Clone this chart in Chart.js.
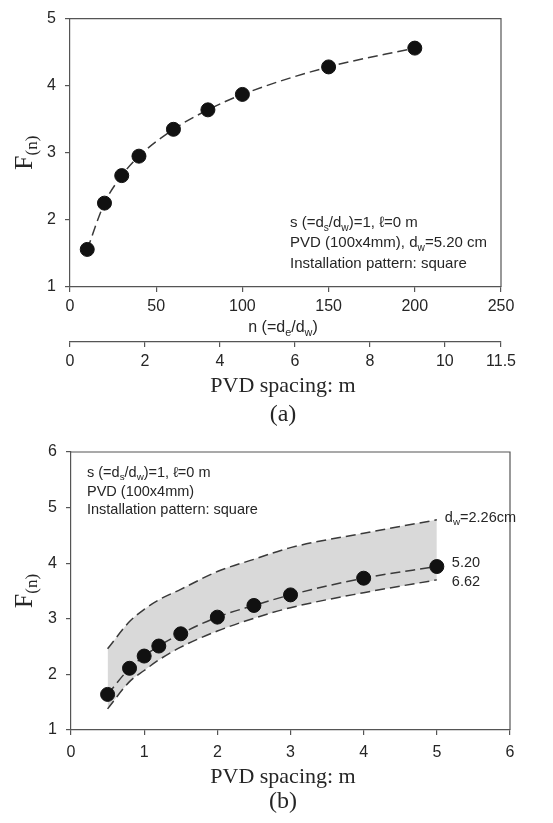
<!DOCTYPE html>
<html>
<head>
<meta charset="utf-8">
<script src="https://cdn.jsdelivr.net/npm/chart.js@4.4.0/dist/chart.umd.min.js"></script>
<style>
  html, body { margin: 0; padding: 0; background: #fff; }
  #wrap { position: relative; width: 553px; height: 823px; }
  canvas { position: absolute; left: 0; }
  #chartA { top: 0; }
  #chartB { top: 420px; }
</style>
</head>
<body>
<div id="wrap">
  <canvas id="chartA" width="553" height="440"></canvas>
  <canvas id="chartB" width="553" height="403"></canvas>
</div>
<script>
// (a) F(n) against n
const nValues = [10, 20, 30, 40, 60, 80, 100, 150, 200];
const fnValuesA = [1.56, 2.25, 2.66, 2.95, 3.35, 3.64, 3.87, 4.28, 4.56];
const spacingTicksA = [0, 2, 4, 6, 8, 10, 11.5];

// (b) F(n) against PVD spacing, for three drain diameters
const spacingB = [0.5, 0.8, 1.0, 1.2, 1.5, 2.0, 2.5, 3.0, 4.0, 5.0];
const fnDw226 = [2.46, 2.95, 3.17, 3.34, 3.53, 3.85, 4.07, 4.28, 4.54, 4.78];
const fnDw520 = [1.64, 2.11, 2.33, 2.51, 2.73, 3.03, 3.24, 3.43, 3.73, 3.94];
const fnDw662 = [1.38, 1.87, 2.07, 2.26, 2.49, 2.78, 3.01, 3.20, 3.47, 3.70];

const sans = '"Liberation Sans", Arial, sans-serif';
const serif = '"Liberation Serif", "Times New Roman", serif';
const ink = '#262626';
const axisColor = '#555';
const lineColor = '#3a3a3a';

// texte avec indices (d_w, d_s ...)
function drawRich(ctx, parts, x, y, size, align, family) {
    family = family || sans;
    ctx.save();
    ctx.fillStyle = ink;
    ctx.textBaseline = 'middle';
    ctx.textAlign = 'left';
    let total = 0;
    const widths = parts.map(p => {
        ctx.font = (p[1] ? size * 0.68 : size) + 'px ' + family;
        const w = ctx.measureText(p[0]).width;
        total += w;
        return w;
    });
    let cx = align === 'center' ? x - total / 2 : x;
    parts.forEach((p, i) => {
        ctx.font = (p[1] ? size * 0.68 : size) + 'px ' + family;
        ctx.fillText(p[0], cx, p[1] ? y + size * 0.32 : y);
        cx += widths[i];
    });
    ctx.restore();
}

function drawText(ctx, txt, x, y, font) {
    ctx.save();
    ctx.fillStyle = ink;
    ctx.font = font;
    ctx.textAlign = 'center';
    ctx.textBaseline = 'middle';
    ctx.fillText(txt, x, y);
    ctx.restore();
}

// F(n) vertical
function drawYTitle(ctx, x, cy) {
    ctx.save();
    ctx.translate(x, cy);
    ctx.rotate(-Math.PI / 2);
    ctx.fillStyle = ink;
    ctx.textBaseline = 'alphabetic';
    ctx.textAlign = 'left';
    ctx.font = '26px ' + serif;
    const wF = ctx.measureText('F').width;
    ctx.font = '17px ' + serif;
    const wS = ctx.measureText('(n)').width;
    const start = -(wF + wS) / 2;
    ctx.font = '26px ' + serif;
    ctx.fillText('F', start, 0);
    ctx.font = '17px ' + serif;
    ctx.fillText('(n)', start + wF, 5);
    ctx.restore();
}

// cadre haut + droite
const framePlugin = {
    id: 'frame',
    afterDraw(chart) {
        const { ctx, chartArea: a } = chart;
        ctx.save();
        ctx.strokeStyle = axisColor;
        ctx.lineWidth = 1.2;
        ctx.beginPath();
        ctx.moveTo(a.left, a.top);
        ctx.lineTo(a.right, a.top);
        ctx.lineTo(a.right, a.bottom);
        ctx.stroke();
        ctx.restore();
    }
};

function axisStyle(extra) {
    return Object.assign({
        type: 'linear',
        grid: { drawOnChartArea: false, tickLength: 5, color: axisColor, lineWidth: 1.2 },
        border: { display: true, color: axisColor, width: 1.2 },
        title: { display: false }
    }, extra);
}

function tickStyle(pad, extra) {
    return Object.assign({ color: ink, padding: pad, font: { family: sans, size: 16 } }, extra);
}

// ---------- (a) ----------
const textA = {
    id: 'textA',
    afterDraw(chart) {
        const { ctx, chartArea: a } = chart;
        const tx = a.left + 220;
        drawRich(ctx, [['s (=d', 0], ['s', 1], ['/d', 0], ['w', 1], [')=1, \u2113=0 m', 0]], tx, 223, 15);
        drawRich(ctx, [['PVD (100x4mm), d', 0], ['w', 1], ['=5.20 cm', 0]], tx, 243, 15);
        drawRich(ctx, [['Installation pattern: square', 0]], tx, 264, 15);
        drawRich(ctx, [['n (=d', 0], ['e', 1], ['/d', 0], ['w', 1], [')', 0]], 283, 328, 16, 'center');
        drawText(ctx, 'PVD spacing: m', 283, 386, '22px ' + serif);
        drawText(ctx, '(a)', 283, 415, '24px ' + serif);
        drawYTitle(ctx, 32, (a.top + a.bottom) / 2);
    }
};

new Chart(document.getElementById('chartA'), {
    type: 'scatter',
    data: {
        datasets: [{
            data: nValues.map((n, i) => ({ x: n, y: fnValuesA[i] })),
            showLine: true,
            borderColor: lineColor,
            borderWidth: 1.5,
            borderDash: [10, 5],
            cubicInterpolationMode: 'monotone',
            pointRadius: 7,
            pointBackgroundColor: '#111',
            pointBorderColor: '#111',
            pointBorderWidth: 1
        }]
    },
    options: {
        responsive: false,
        animation: false,
        devicePixelRatio: 1,
        layout: { padding: { top: 14, right: 52, left: 0, bottom: 0 } },
        plugins: { legend: { display: false }, tooltip: { enabled: false } },
        scales: {
            x: axisStyle({
                position: 'bottom', min: 0, max: 250,
                ticks: tickStyle(5, { stepSize: 50 }),
                afterFit: s => { s.height = 55; }
            }),
            x2: axisStyle({
                axis: 'x', position: 'bottom', min: 0, max: 11.5,
                ticks: tickStyle(5),
                afterBuildTicks: s => { s.ticks = spacingTicksA.map(v => ({ value: v })); },
                afterFit: s => { s.height = 98; }
            }),
            y: axisStyle({
                min: 1, max: 5,
                ticks: tickStyle(9, { stepSize: 1 }),
                afterFit: s => { s.width = 70; }
            })
        }
    },
    plugins: [framePlugin, textA]
});

// ---------- (b) ----------
const textB = {
    id: 'textB',
    afterDraw(chart) {
        const { ctx, chartArea: a, scales } = chart;
        const tx = a.left + 16;
        drawRich(ctx, [['s (=d', 0], ['s', 1], ['/d', 0], ['w', 1], [')=1, \u2113=0 m', 0]], tx, 53, 14.5);
        drawRich(ctx, [['PVD (100x4mm)', 0]], tx, 72, 14.5);
        drawRich(ctx, [['Installation pattern: square', 0]], tx, 90, 14.5);

        const last = spacingB.length - 1;
        const lx = scales.x.getPixelForValue(spacingB[last]) + 8;
        drawRich(ctx, [['d', 0], ['w', 1], ['=2.26cm', 0]], lx, scales.y.getPixelForValue(fnDw226[last]) - 2, 14.5);
        drawRich(ctx, [['5.20', 0]], lx + 7, scales.y.getPixelForValue(fnDw520[last]) - 4, 14.5);
        drawRich(ctx, [['6.62', 0]], lx + 7, scales.y.getPixelForValue(fnDw662[last]) + 2, 14.5);

        drawText(ctx, 'PVD spacing: m', 283, 357, '22px ' + serif);
        drawText(ctx, '(b)', 283, 382, '24px ' + serif);
        drawYTitle(ctx, 32, (a.top + a.bottom) / 2);
    }
};

const dashed = {
    showLine: true,
    borderColor: lineColor,
    borderWidth: 1.5,
    borderDash: [10, 5],
    cubicInterpolationMode: 'monotone'
};

new Chart(document.getElementById('chartB'), {
    type: 'scatter',
    data: {
        datasets: [
            Object.assign({}, dashed, {
                data: spacingB.map((s, i) => ({ x: s, y: fnDw226[i] })),
                pointRadius: 0,
                fill: 2,
                backgroundColor: '#d9d9d9'
            }),
            Object.assign({}, dashed, {
                data: spacingB.map((s, i) => ({ x: s, y: fnDw520[i] })),
                pointRadius: 7,
                pointBackgroundColor: '#111',
                pointBorderColor: '#111',
                pointBorderWidth: 1,
                fill: false
            }),
            Object.assign({}, dashed, {
                data: spacingB.map((s, i) => ({ x: s, y: fnDw662[i] })),
                pointRadius: 0,
                fill: false
            })
        ]
    },
    options: {
        responsive: false,
        animation: false,
        devicePixelRatio: 1,
        layout: { padding: { top: 32, right: 43, left: 0, bottom: 0 } },
        plugins: {
            legend: { display: false },
            tooltip: { enabled: false },
            filler: { drawTime: 'beforeDatasetsDraw' }
        },
        scales: {
            x: axisStyle({
                position: 'bottom', min: 0, max: 6,
                ticks: tickStyle(8, { stepSize: 1 }),
                afterFit: s => { s.height = 93; }
            }),
            y: axisStyle({
                min: 1, max: 6,
                ticks: tickStyle(9, { stepSize: 1 }),
                afterFit: s => { s.width = 71; }
            })
        }
    },
    plugins: [framePlugin, textB]
});
</script>
</body>
</html>
